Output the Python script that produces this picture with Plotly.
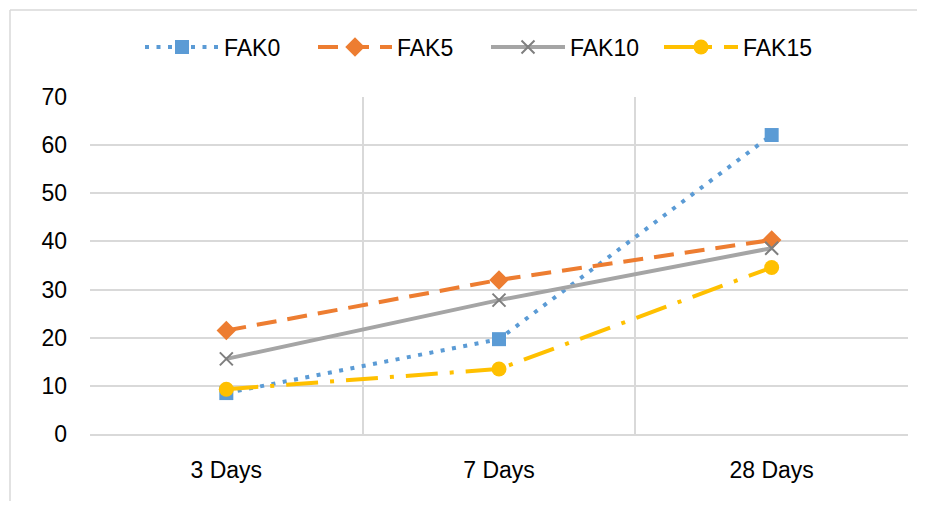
import plotly.graph_objects as go

categories = ["3 Days", "7 Days", "28 Days"]
fak0 = [8.5, 19.7, 62.1]
fak5 = [21.5, 32.0, 40.3]
fak10 = [15.6, 27.8, 38.6]
fak15 = [9.3, 13.5, 34.6]

# page has an 8px body margin; figure sized so the page does not scroll
W, H = 909, 493
L, R, T, B = 82, 9, 89, 67
pw, ph = W - L - R, H - T - B

fig = go.Figure()
fig.add_trace(go.Scatter(x=categories, y=fak0, name="FAK0", mode="lines+markers",
                         line=dict(color="#5B9BD5", width=4, dash="4px,7.5px"),
                         marker=dict(symbol="square", size=14, color="#5B9BD5")))
fig.add_trace(go.Scatter(x=categories, y=fak5, name="FAK5", mode="lines+markers",
                         line=dict(color="#ED7D31", width=4, dash="20px,11px"),
                         marker=dict(symbol="diamond", size=15, color="#ED7D31")))
fig.add_trace(go.Scatter(x=categories, y=fak10, name="FAK10", mode="lines+markers",
                         line=dict(color="#A5A5A5", width=4),
                         marker=dict(symbol="x-thin", size=13, color="#7F7F7F",
                                     line=dict(color="#7F7F7F", width=2))))
fig.add_trace(go.Scatter(x=categories, y=fak15, name="FAK15", mode="lines+markers",
                         line=dict(color="#FFC000", width=4, dash="32px,12px,4px,12px"),
                         marker=dict(symbol="circle", size=15, color="#FFC000")))

# outer chart border (top and left edges visible in the frame)
border = dict(color="#D9D9D9", width=1.5)
fig.add_shape(type="line", xref="paper", yref="paper",
              x0=(2 - L) / pw, x1=(W + 10 - L) / pw,
              y0=(H - B - 2) / ph, y1=(H - B - 2) / ph, line=border, layer="below")
fig.add_shape(type="line", xref="paper", yref="paper",
              x0=(2 - L) / pw, x1=(2 - L) / pw,
              y0=(H - B - (H + 10)) / ph, y1=(H - B - 2) / ph, line=border, layer="below")

fig.update_layout(
    width=W, height=H,
    margin=dict(l=L, r=R, t=T, b=B, autoexpand=False),
    paper_bgcolor="white", plot_bgcolor="white",
    font=dict(family="Liberation Sans, Arial, sans-serif", size=23, color="#000000"),
    legend=dict(orientation="h", x=(478 - L) / pw, xanchor="center",
                y=(H - B - 39) / ph, yanchor="middle",
                font=dict(size=23), itemwidth=74, tracegroupgap=0,
                entrywidth=84, entrywidthmode="pixels"),
    xaxis=dict(type="category", tickson="boundaries", showgrid=True, gridcolor="#D9D9D9",
               gridwidth=1.5, showline=True, linecolor="#D9D9D9", linewidth=1.5, ticks="",
               range=[-0.5, 2.5], tickfont=dict(size=23), ticklabelstandoff=15),
    yaxis=dict(range=[0, 70], dtick=10, showgrid=True, gridcolor="#D9D9D9", gridwidth=1.5,
               zeroline=False, showline=False, ticks="", tickfont=dict(size=23), ticklabelstandoff=22),
)

fig.write_html("out.html")
